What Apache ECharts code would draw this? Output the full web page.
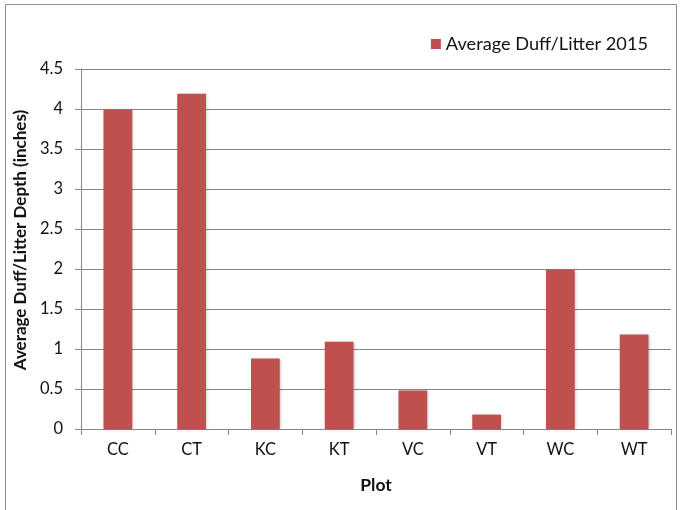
<!DOCTYPE html>
<html><head><meta charset="utf-8">
<script src="https://cdn.jsdelivr.net/npm/echarts@6/dist/echarts.min.js"></script>
<style>html,body{margin:0;padding:0;background:#fff}#c{width:682px;height:510px}</style>
</head><body><div id="c"></div>
<script>
const categories = ['CC','CT','KC','KT','VC','VT','WC','WT'];
const values = [3.99, 4.19, 0.88, 1.09, 0.48, 0.18, 1.99, 1.18];
const seriesName = 'Average Duff/Litter 2015';
const yTicks = [0, 0.5, 1, 1.5, 2, 2.5, 3, 3.5, 4, 4.5];

const FONT = 'Lato';
const chart = echarts.init(document.getElementById('c'), null, {renderer: 'canvas'});
chart.setOption({
  animation: false,
  backgroundColor: '#fff',
  graphic: [{type: 'rect', shape: {x: 5.5, y: 4.5, width: 671, height: 510}, style: {fill: 'none', stroke: '#8c8c8c', lineWidth: 1}, silent: true}],
  legend: {
    data: [seriesName], right: 29, top: 30, itemWidth: 10, itemHeight: 10,
    icon: 'rect',
    textStyle: {fontFamily: FONT, fontSize: 18.2, color: '#111'}
  },
  grid: {left: 81, right: 11, top: 69, bottom: 81, containLabel: false},
  xAxis: {
    type: 'category', data: categories, boundaryGap: true,
    name: 'Plot', nameLocation: 'middle', nameGap: 47,
    nameTextStyle: {fontFamily: FONT, fontSize: 17.5, fontWeight: 'bold', color: '#111'},
    axisLine: {lineStyle: {color: '#868686', width: 1}},
    axisTick: {show: true, alignWithLabel: false, length: 6, lineStyle: {color: '#868686'}},
    axisLabel: {fontFamily: FONT, fontSize: 16.5, color: '#111', margin: 12}
  },
  yAxis: {
    type: 'value', min: 0, max: 4.5, interval: 0.5,
    name: 'Average Duff/Litter Depth (inches)', nameLocation: 'middle', nameGap: 48,
    nameTextStyle: {fontFamily: FONT, fontSize: 17, fontWeight: 'bold', color: '#111', padding: [0, 0, 0, 18]},
    axisLine: {show: true, lineStyle: {color: '#868686', width: 1}},
    axisTick: {show: true, length: 6, lineStyle: {color: '#868686'}},
    axisLabel: {fontFamily: FONT, fontSize: 16.5, color: '#111', margin: 18,
      formatter: v => (yTicks.indexOf(v) >= 0 ? String(v) : '')},
    splitLine: {show: true, lineStyle: {color: '#868686', width: 1}}
  },
  series: [{
    name: seriesName, type: 'bar', data: values, barWidth: '39%',
    itemStyle: {color: '#C0504D', shadowColor: 'rgba(0,0,0,0.25)', shadowBlur: 3, shadowOffsetX: 1, shadowOffsetY: 0}
  }]
});
</script></body></html>
